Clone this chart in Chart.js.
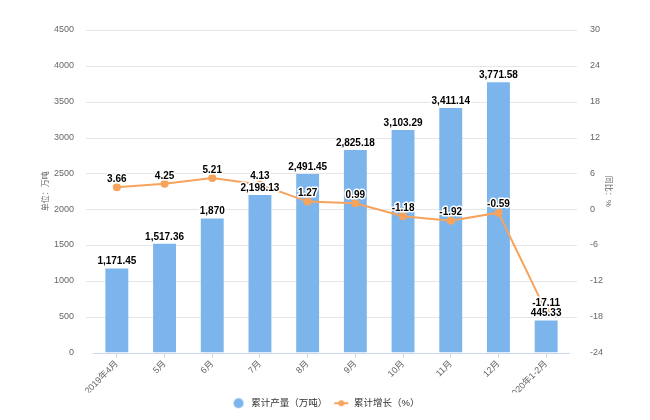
<!DOCTYPE html>
<html lang="zh">
<head>
<meta charset="UTF-8">
<title>累计产量及累计增长</title>
<script src="https://cdn.jsdelivr.net/npm/chart.js@4/dist/chart.umd.min.js"></script>
<style>
  html, body { margin: 0; padding: 0; background: #fff; }
</style>
</head>
<body>
<canvas id="grafico" width="650" height="420"></canvas>
<script>
// datos
const categorias = ['2019年4月', '5月', '6月', '7月', '8月', '9月', '10月', '11月', '12月', '2020年1-2月'];
const produccion = [1171.45, 1517.36, 1870, 2198.13, 2491.45, 2825.18, 3103.29, 3411.14, 3771.58, 445.33];
const crecimiento = [3.66, 4.25, 5.21, 4.13, 1.27, 0.99, -1.18, -1.92, -0.59, -17.11];

const AZUL = '#7cb5ec';
const NARANJA = '#f7a35c';
const FUENTE = '"Liberation Sans", "Noto Sans CJK SC", sans-serif';

// iconos de leyenda
function iconoCirculo() {
    const c = document.createElement('canvas');
    c.width = 16; c.height = 12;
    const g = c.getContext('2d');
    g.fillStyle = AZUL;
    g.beginPath(); g.arc(8, 6, 5, 0, Math.PI * 2); g.fill();
    return c;
}
function iconoLinea() {
    const c = document.createElement('canvas');
    c.width = 16; c.height = 12;
    const g = c.getContext('2d');
    g.strokeStyle = NARANJA; g.lineWidth = 2;
    g.beginPath(); g.moveTo(1, 6); g.lineTo(15, 6); g.stroke();
    g.fillStyle = NARANJA;
    g.beginPath(); g.arc(8, 6, 3, 0, Math.PI * 2); g.fill();
    return c;
}

// rejilla horizontal un poco más ancha que el área, como en el original
const rejilla = {
    id: 'rejilla',
    beforeDatasetsDraw(chart) {
        const { ctx, chartArea } = chart;
        const y = chart.scales.y;
        ctx.save();
        ctx.strokeStyle = '#e6e6e6';
        ctx.lineWidth = 1;
        y.ticks.forEach(t => {
            if (t.value === 0) return;
            const py = Math.round(y.getPixelForValue(t.value)) + 0.5;
            ctx.beginPath();
            ctx.moveTo(chartArea.left - 7, py);
            ctx.lineTo(chartArea.right + 7, py);
            ctx.stroke();
        });
        // línea base del eje x
        const py0 = Math.round(y.getPixelForValue(0)) + 0.5;
        ctx.strokeStyle = '#ccd6eb';
        ctx.beginPath();
        ctx.moveTo(chartArea.left, py0);
        ctx.lineTo(chartArea.right, py0);
        ctx.stroke();
        ctx.restore();
    }
};

// etiquetas de valores
const etiquetas = {
    id: 'etiquetas',
    afterDatasetsDraw(chart) {
        const { ctx } = chart;
        ctx.save();
        ctx.font = 'bold 10px ' + FUENTE;
        ctx.textAlign = 'center';
        ctx.textBaseline = 'middle';
        ctx.lineJoin = 'round';
        ctx.lineWidth = 3;
        ctx.strokeStyle = '#fff';
        ctx.fillStyle = '#000';
        const escribir = (txt, x, y) => { ctx.strokeText(txt, x, y); ctx.fillText(txt, x, y); };
        chart.getDatasetMeta(1).data.forEach((bar, i) => {
            escribir(produccion[i].toLocaleString('en-US', { maximumFractionDigits: 2 }), bar.x, bar.y - 7);
        });
        chart.getDatasetMeta(0).data.forEach((p, i) => {
            escribir(String(crecimiento[i]), p.x, p.y - 8);
        });
        ctx.restore();
    }
};

new Chart(document.getElementById('grafico'), {
    data: {
        labels: categorias,
        datasets: [
            {
                type: 'line',
                label: '累计增长（%）',
                data: crecimiento,
                yAxisID: 'y1',
                borderColor: NARANJA,
                backgroundColor: NARANJA,
                borderWidth: 2,
                pointRadius: 4,
                pointHoverRadius: 4,
                pointBackgroundColor: NARANJA,
                pointBorderWidth: 0,
                tension: 0,
                order: 0
            },
            {
                type: 'bar',
                label: '累计产量（万吨）',
                data: produccion,
                yAxisID: 'y',
                backgroundColor: AZUL,
                barPercentage: 0.48,
                categoryPercentage: 1,
                order: 1
            }
        ]
    },
    options: {
        responsive: false,
        animation: false,
        layout: { padding: { top: 30, bottom: 2, left: 0, right: 0 } },
        plugins: {
            tooltip: { enabled: false },
            legend: {
                position: 'bottom',
                labels: {
                    usePointStyle: true,
                    pointStyleWidth: 16,
                    padding: 6,
                    color: '#333',
                    font: { family: FUENTE, size: 9.5 },
                    generateLabels(chart) {
                        return [
                            { text: '累计产量（万吨）', pointStyle: iconoCirculo(), datasetIndex: 1, lineWidth: 0, fontColor: '#333' },
                            { text: '累计增长（%）', pointStyle: iconoLinea(), datasetIndex: 0, lineWidth: 0, fontColor: '#333' }
                        ];
                    }
                }
            }
        },
        scales: {
            x: {
                offset: true,
                grid: { display: true, drawOnChartArea: false, offset: false, tickLength: 5, color: '#ccd6eb' },
                border: { display: false },
                ticks: { minRotation: 45, maxRotation: 45, color: '#666', font: { family: FUENTE, size: 9 }, padding: 1 },
                afterFit(s) { s.height = 40; }
            },
            y: {
                position: 'left',
                min: 0,
                max: 4500,
                ticks: { stepSize: 500, color: '#666', font: { family: FUENTE, size: 9 }, padding: 11, callback: v => String(v) },
                grid: { display: false },
                border: { display: false },
                title: { display: true, text: '单位：万吨', color: '#666', font: { family: FUENTE, size: 8 }, padding: { top: 41, bottom: 0 } },
                afterFit(s) { s.width = 93; }
            },
            y1: {
                position: 'right',
                min: -24,
                max: 30,
                ticks: { stepSize: 6, color: '#666', font: { family: FUENTE, size: 9 }, padding: 12, callback: v => String(v) },
                grid: { display: false },
                border: { display: false },
                title: { display: true, text: '同比：%', color: '#666', font: { family: FUENTE, size: 8 }, padding: { top: 37, bottom: 0 } },
                afterFit(s) { s.width = 80; }
            }
        }
    },
    plugins: [rejilla, etiquetas]
});
</script>
</body>
</html>
